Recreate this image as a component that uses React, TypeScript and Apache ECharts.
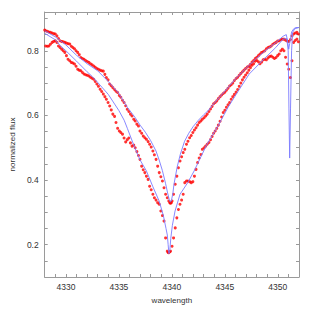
import React, { useEffect, useRef } from "react";
import * as echarts from "echarts";

// Observed spectrum A (shallower core)
const obsA: number[][] = [
  [4328.0, 0.864], [4328.09, 0.862], [4328.25, 0.86], [4328.39, 0.858], [4328.54, 0.857], [4328.7, 0.855],
  [4328.85, 0.853], [4329.0, 0.852], [4329.15, 0.846], [4329.3, 0.838], [4329.45, 0.831], [4329.6, 0.829],
  [4329.75, 0.828], [4329.9, 0.826], [4330.05, 0.824], [4330.2, 0.822], [4330.36, 0.821], [4330.51, 0.814],
  [4330.66, 0.81], [4330.81, 0.806], [4330.96, 0.8], [4331.11, 0.795], [4331.26, 0.788], [4331.41, 0.779],
  [4331.56, 0.776], [4331.71, 0.774], [4331.86, 0.77], [4332.02, 0.767], [4332.17, 0.764], [4332.32, 0.76],
  [4332.47, 0.757], [4332.62, 0.753], [4332.77, 0.749], [4332.92, 0.745], [4333.07, 0.743], [4333.23, 0.74],
  [4333.38, 0.738], [4333.53, 0.737], [4333.68, 0.727], [4333.82, 0.717], [4333.98, 0.71], [4334.13, 0.697],
  [4334.28, 0.692], [4334.43, 0.686], [4334.59, 0.68], [4334.73, 0.675], [4334.88, 0.671], [4335.04, 0.662],
  [4335.18, 0.656], [4335.34, 0.647], [4335.49, 0.64], [4335.64, 0.63], [4335.79, 0.619], [4335.94, 0.612],
  [4336.09, 0.604], [4336.24, 0.598], [4336.4, 0.588], [4336.54, 0.583], [4336.7, 0.573], [4336.85, 0.567],
  [4336.99, 0.552], [4337.15, 0.545], [4337.3, 0.536], [4337.45, 0.531], [4337.6, 0.526], [4337.76, 0.519],
  [4337.9, 0.511], [4338.05, 0.502], [4338.21, 0.49], [4338.35, 0.478], [4338.51, 0.464], [4338.66, 0.443],
  [4338.81, 0.423], [4338.96, 0.41], [4339.11, 0.397], [4339.26, 0.376], [4339.41, 0.356], [4339.57, 0.345],
  [4339.71, 0.335], [4339.8, 0.33], [4339.87, 0.328], [4339.95, 0.33], [4340.02, 0.335], [4340.16, 0.356],
  [4340.32, 0.387], [4340.47, 0.412], [4340.62, 0.438], [4340.77, 0.459], [4340.92, 0.472], [4341.07, 0.485],
  [4341.22, 0.495], [4341.38, 0.511], [4341.52, 0.52], [4341.68, 0.531], [4341.83, 0.538], [4341.98, 0.547],
  [4342.13, 0.555], [4342.28, 0.562], [4342.43, 0.57], [4342.58, 0.578], [4342.74, 0.583], [4342.88, 0.588],
  [4343.04, 0.593], [4343.19, 0.598], [4343.34, 0.604], [4343.5, 0.612], [4343.65, 0.62], [4343.8, 0.628],
  [4343.94, 0.636], [4344.09, 0.64], [4344.24, 0.645], [4344.39, 0.652], [4344.55, 0.658], [4344.7, 0.663],
  [4344.85, 0.668], [4345.0, 0.672], [4345.15, 0.678], [4345.3, 0.684], [4345.45, 0.691], [4345.6, 0.695],
  [4345.75, 0.7], [4345.9, 0.708], [4346.06, 0.714], [4346.21, 0.718], [4346.36, 0.724], [4346.51, 0.73],
  [4346.66, 0.735], [4346.81, 0.74], [4346.96, 0.745], [4347.12, 0.75], [4347.27, 0.753], [4347.42, 0.758],
  [4347.57, 0.765], [4347.72, 0.77], [4347.87, 0.776], [4348.02, 0.78], [4348.17, 0.785], [4348.32, 0.79],
  [4348.47, 0.795], [4348.62, 0.797], [4348.77, 0.8], [4348.92, 0.806], [4349.08, 0.81], [4349.23, 0.812],
  [4349.38, 0.815], [4349.53, 0.82], [4349.68, 0.823], [4349.83, 0.826], [4349.98, 0.83], [4350.13, 0.831],
  [4350.28, 0.834], [4350.43, 0.836], [4350.58, 0.836], [4350.73, 0.833], [4350.89, 0.83], [4351.03, 0.829],
  [4351.19, 0.835], [4351.34, 0.846], [4351.49, 0.852], [4351.64, 0.855], [4351.8, 0.857], [4351.94, 0.852],
];

// Observed spectrum B (deeper core)
const obsB: number[][] = [
  [4328.09, 0.815], [4328.25, 0.814], [4328.39, 0.815], [4328.54, 0.82], [4328.7, 0.826], [4328.85, 0.829],
  [4329.0, 0.831], [4329.15, 0.826], [4329.3, 0.815], [4329.45, 0.81], [4329.6, 0.805], [4329.75, 0.8],
  [4329.9, 0.795], [4330.05, 0.785], [4330.2, 0.774], [4330.36, 0.769], [4330.51, 0.764], [4330.66, 0.762],
  [4330.81, 0.759], [4330.96, 0.752], [4331.11, 0.743], [4331.26, 0.74], [4331.41, 0.738], [4331.56, 0.733],
  [4331.71, 0.728], [4331.86, 0.726], [4332.02, 0.724], [4332.17, 0.722], [4332.32, 0.718], [4332.47, 0.715],
  [4332.62, 0.712], [4332.77, 0.705], [4332.92, 0.697], [4333.07, 0.69], [4333.23, 0.681], [4333.38, 0.674],
  [4333.53, 0.666], [4333.68, 0.658], [4333.82, 0.65], [4333.98, 0.64], [4334.13, 0.629], [4334.28, 0.617],
  [4334.43, 0.604], [4334.59, 0.597], [4334.73, 0.578], [4334.88, 0.56], [4335.04, 0.552], [4335.18, 0.547],
  [4335.34, 0.542], [4335.49, 0.53], [4335.64, 0.518], [4335.79, 0.525], [4335.94, 0.53], [4336.09, 0.515],
  [4336.24, 0.505], [4336.4, 0.508], [4336.54, 0.5], [4336.7, 0.488], [4336.85, 0.476], [4336.99, 0.464],
  [4337.15, 0.443], [4337.3, 0.432], [4337.45, 0.423], [4337.6, 0.412], [4337.76, 0.402], [4337.9, 0.381],
  [4338.05, 0.37], [4338.21, 0.356], [4338.35, 0.345], [4338.51, 0.338], [4338.66, 0.33], [4338.81, 0.325],
  [4338.96, 0.304], [4339.11, 0.29], [4339.26, 0.273], [4339.41, 0.221], [4339.57, 0.18], [4339.65, 0.176],
  [4339.71, 0.175], [4339.8, 0.178], [4339.87, 0.18], [4340.02, 0.195], [4340.16, 0.221], [4340.32, 0.252],
  [4340.47, 0.283], [4340.62, 0.309], [4340.77, 0.325], [4340.92, 0.338], [4341.07, 0.356], [4341.22, 0.392],
  [4341.38, 0.397], [4341.52, 0.397], [4341.68, 0.395], [4341.83, 0.392], [4341.98, 0.395], [4342.13, 0.412],
  [4342.28, 0.433], [4342.43, 0.454], [4342.58, 0.468], [4342.74, 0.479], [4342.88, 0.495], [4343.04, 0.5],
  [4343.19, 0.505], [4343.34, 0.511], [4343.5, 0.516], [4343.65, 0.525], [4343.8, 0.535], [4343.94, 0.545],
  [4344.09, 0.552], [4344.24, 0.56], [4344.39, 0.57], [4344.55, 0.582], [4344.7, 0.595], [4344.85, 0.609],
  [4345.0, 0.616], [4345.15, 0.625], [4345.3, 0.633], [4345.45, 0.64], [4345.6, 0.65], [4345.75, 0.658],
  [4345.9, 0.665], [4346.06, 0.672], [4346.21, 0.68], [4346.36, 0.69], [4346.51, 0.7], [4346.66, 0.71],
  [4346.81, 0.718], [4346.96, 0.725], [4347.12, 0.732], [4347.27, 0.74], [4347.42, 0.748], [4347.57, 0.755],
  [4347.72, 0.76], [4347.87, 0.768], [4348.02, 0.77], [4348.17, 0.766], [4348.32, 0.76], [4348.47, 0.765],
  [4348.62, 0.772], [4348.77, 0.774], [4348.92, 0.772], [4349.08, 0.778], [4349.23, 0.782], [4349.38, 0.784],
  [4349.53, 0.78], [4349.68, 0.776], [4349.83, 0.779], [4349.98, 0.785], [4350.13, 0.79], [4350.28, 0.8],
  [4350.43, 0.805], [4350.58, 0.8], [4350.73, 0.78], [4350.89, 0.759], [4351.03, 0.743], [4351.19, 0.717],
  [4351.34, 0.769], [4351.49, 0.826], [4351.64, 0.832], [4351.8, 0.836], [4351.94, 0.828],
];

// Model spectrum A (shallow core, weak line at 4351)
const modelA: number[][] = [
  [4328.0, 0.862], [4329.0, 0.843], [4330.0, 0.818], [4331.0, 0.786], [4332.0, 0.76], [4333.0, 0.738],
  [4334.0, 0.705], [4335.0, 0.668], [4335.8, 0.625], [4336.5, 0.595], [4337.0, 0.57], [4337.5, 0.548],
  [4338.0, 0.522], [4338.5, 0.49], [4338.8, 0.462], [4339.1, 0.43], [4339.4, 0.39], [4339.6, 0.36],
  [4339.75, 0.34], [4339.85, 0.332], [4339.95, 0.335], [4340.1, 0.36], [4340.2, 0.387], [4340.5, 0.44],
  [4340.8, 0.48], [4341.2, 0.52], [4341.6, 0.545], [4342.0, 0.565], [4342.5, 0.585], [4343.0, 0.602],
  [4343.4, 0.614], [4344.0, 0.638], [4345.0, 0.675], [4346.0, 0.713], [4347.0, 0.746], [4348.0, 0.777],
  [4349.0, 0.805], [4349.8, 0.825], [4350.5, 0.845], [4350.8, 0.85], [4350.95, 0.825], [4351.03, 0.805],
  [4351.12, 0.822], [4351.3, 0.858], [4351.5, 0.868], [4351.7, 0.872], [4352.0, 0.872],
];

// Model spectrum B (deep core, strong line at 4351)
const modelB: number[][] = [
  [4328.0, 0.854], [4329.0, 0.834], [4329.5, 0.815], [4330.0, 0.8], [4331.0, 0.768], [4332.0, 0.735],
  [4332.5, 0.72], [4333.0, 0.702], [4334.0, 0.665], [4335.0, 0.615], [4335.5, 0.585], [4335.8, 0.56],
  [4336.5, 0.5], [4337.0, 0.462], [4337.6, 0.428], [4338.2, 0.38], [4338.8, 0.335], [4339.2, 0.29],
  [4339.45, 0.25], [4339.57, 0.23], [4339.65, 0.2], [4339.72, 0.172], [4339.8, 0.18], [4339.9, 0.22],
  [4340.05, 0.26], [4340.3, 0.304], [4340.77, 0.356], [4341.5, 0.392], [4342.1, 0.428], [4343.3, 0.51],
  [4344.4, 0.57], [4345.3, 0.625], [4346.2, 0.672], [4347.3, 0.728], [4348.5, 0.768], [4349.8, 0.81],
  [4350.5, 0.836], [4350.85, 0.838], [4350.98, 0.8], [4351.05, 0.62], [4351.12, 0.468], [4351.2, 0.62],
  [4351.3, 0.8], [4351.4, 0.857], [4351.6, 0.868], [4352.0, 0.872],
];

const X_MIN = 4328;
const X_MAX = 4352;
const Y_MIN = 0.1;
const Y_MAX = 0.92;

const FONT = "Liberation Sans";
const AXIS_GRAY = "#9a9a9a";
const DOT_RED = "#ff0000";
const LINE_BLUE = "#7b7bff";

export default function App() {
  const ref = useRef<HTMLDivElement>(null);
  useEffect(() => {
    document.body.style.margin = "0";
    if (!ref.current) return;
    const chart = echarts.init(ref.current, undefined, { renderer: "svg" });
    const xLabel = (v: number) => (Math.round(v) % 5 === 0 ? String(Math.round(v)) : "");
    const yLabel = (v: number) => {
      const k = Math.round(v * 100);
      return k % 20 === 0 && k >= 20 && k <= 80 ? (k / 100).toFixed(1) : "";
    };
    const axisLine = { show: true, lineStyle: { color: AXIS_GRAY, width: 1 } };
    const axisTick = { show: true, inside: true, length: 3, lineStyle: { color: AXIS_GRAY, width: 1 } };
    chart.setOption({
      animation: false,
      backgroundColor: "#ffffff",
      grid: { left: 34, right: 17, top: 12, bottom: 39 },
      xAxis: [
        {
          type: "value",
          min: X_MIN,
          max: X_MAX,
          interval: 1,
          position: "bottom",
          name: "wavelength",
          nameLocation: "middle",
          nameGap: 19,
          nameTextStyle: { fontFamily: FONT, fontSize: 8, color: "#333" },
          axisLine,
          axisTick,
          splitLine: { show: false },
          axisLabel: { formatter: xLabel, fontFamily: FONT, fontSize: 8.5, color: "#333", margin: 5 },
        },
        {
          type: "value",
          min: X_MIN,
          max: X_MAX,
          interval: 1,
          position: "top",
          axisLine,
          axisTick,
          splitLine: { show: false },
          axisLabel: { show: false },
        },
      ],
      yAxis: [
        {
          type: "value",
          min: Y_MIN,
          max: Y_MAX,
          interval: 0.05,
          position: "left",
          name: "normalized flux",
          nameLocation: "middle",
          nameGap: 22,
          nameRotate: 90,
          nameTextStyle: { fontFamily: FONT, fontSize: 8, color: "#333" },
          axisLine,
          axisTick,
          splitLine: { show: false },
          axisLabel: { formatter: yLabel, fontFamily: FONT, fontSize: 8.5, color: "#333", margin: 6 },
        },
        {
          type: "value",
          min: Y_MIN,
          max: Y_MAX,
          interval: 0.05,
          position: "right",
          axisLine,
          axisTick,
          splitLine: { show: false },
          axisLabel: { show: false },
        },
      ],
      series: [
        {
          type: "scatter",
          data: obsA,
          symbol: "circle",
          symbolSize: 3,
          itemStyle: { color: DOT_RED },
          silent: true,
        },
        {
          type: "scatter",
          data: obsB,
          symbol: "circle",
          symbolSize: 3,
          itemStyle: { color: DOT_RED },
          silent: true,
        },
        {
          type: "line",
          data: modelA,
          showSymbol: false,
          lineStyle: { color: LINE_BLUE, width: 0.9 },
          silent: true,
        },
        {
          type: "line",
          data: modelB,
          showSymbol: false,
          lineStyle: { color: LINE_BLUE, width: 0.9 },
          silent: true,
        },
      ],
    });
    return () => chart.dispose();
  }, []);
  return <div ref={ref} style={{ width: 316, height: 316 }} />;
}
